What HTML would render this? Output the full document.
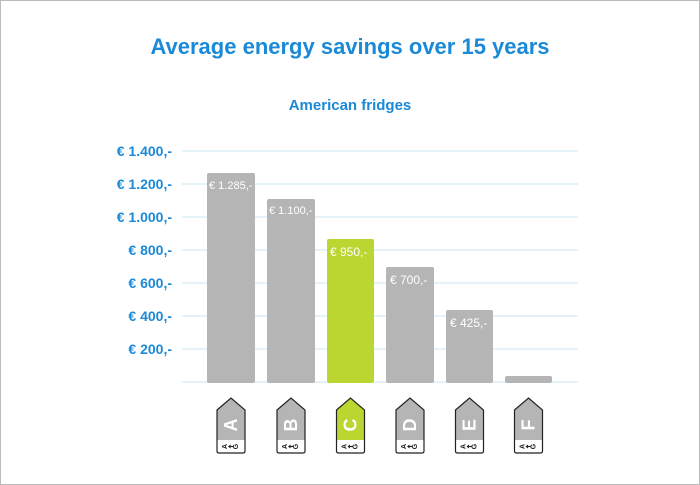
<!DOCTYPE html>
<html><head><meta charset="utf-8"><style>
body{margin:0;background:#fff}
svg{display:block}
text{font-family:"Liberation Sans",sans-serif}
</style></head><body>
<svg width="700" height="485" viewBox="0 0 700 485">
<rect x="0.5" y="0.5" width="699" height="484" fill="#fff" stroke="#bbb"/>
<text x="350" y="54" text-anchor="middle" font-size="22" font-weight="bold" fill="#1a8ad8">Average energy savings over 15 years</text>
<text x="350" y="110" text-anchor="middle" font-size="15" font-weight="bold" fill="#1a8ad8">American fridges</text>
<g stroke="#d6ebf8" stroke-width="1.2">
<line x1="182" x2="578" y1="151" y2="151"/><line x1="182" x2="578" y1="184" y2="184"/>
<line x1="182" x2="578" y1="217" y2="217"/><line x1="182" x2="578" y1="250" y2="250"/>
<line x1="182" x2="578" y1="283" y2="283"/><line x1="182" x2="578" y1="316" y2="316"/>
<line x1="182" x2="578" y1="349" y2="349"/><line x1="182" x2="578" y1="382" y2="382"/>
</g>
<g font-size="14" font-weight="bold" fill="#1a8ad8" text-anchor="end">
<text x="172" y="156">€ 1.400,-</text><text x="172" y="189">€ 1.200,-</text>
<text x="172" y="222">€ 1.000,-</text><text x="172" y="255">€ 800,-</text>
<text x="172" y="288">€ 600,-</text><text x="172" y="321">€ 400,-</text>
<text x="172" y="354">€ 200,-</text>
</g>
<g fill="#b5b5b5">
<rect x="207" y="173" width="48" height="210" rx="2"/>
<rect x="267" y="199" width="48" height="184" rx="2"/>
<rect x="327" y="239" width="47" height="144" fill="#bcd631" rx="2"/>
<rect x="386" y="267" width="48" height="116" rx="2"/>
<rect x="446" y="310" width="47" height="73" rx="2"/>
<rect x="505" y="376" width="47" height="7" rx="2"/>
</g>
<g fill="#fff" font-size="11">
<text x="209" y="189">€ 1.285,-</text>
<text x="269" y="214">€ 1.100,-</text>
<text x="330" y="256" font-size="12">€ 950,-</text>
<text x="390" y="284" font-size="12">€ 700,-</text>
<text x="450" y="327" font-size="12">€ 425,-</text>
</g>
<defs>
<g id="b">
<path d="M-14,12 L0,0 L14,12 L14,42 L-14,42 Z" fill="currentColor"/>
<path d="M-14,42 L14,42 L14,53 Q14,55 12,55 L-12,55 Q-14,55 -14,53 Z" fill="#fff"/>
<path d="M-14,12 L0,0 L14,12 L14,53 Q14,55 12,55 L-12,55 Q-14,55 -14,53 Z" fill="none" stroke="#222" stroke-width="1.2"/>
<text transform="translate(-5.5,48.5) rotate(-90)" font-size="7" font-weight="bold" fill="#222" text-anchor="middle" dominant-baseline="central">A</text>
<text transform="translate(5.5,48.5) rotate(-90)" font-size="7" font-weight="bold" fill="#222" text-anchor="middle" dominant-baseline="central">G</text>
<line x1="-2" y1="48.5" x2="2.5" y2="48.5" stroke="#222" stroke-width="1.2"/>
<path d="M-3,48.5 L-0.5,46.5 L-0.5,50.5 Z" fill="#222"/>
</g>
</defs>
<g color="#b5b5b5">
<use href="#b" x="231" y="398"/><use href="#b" x="291" y="398"/>
<use href="#b" x="350.5" y="398" color="#bcd631"/><use href="#b" x="410" y="398"/>
<use href="#b" x="469.5" y="398"/><use href="#b" x="528.5" y="398"/>
</g>
<g fill="#fff" font-size="18" font-weight="bold" text-anchor="middle">
<text transform="translate(237,425) rotate(-90)">A</text>
<text transform="translate(297,425) rotate(-90)">B</text>
<text transform="translate(356.5,425) rotate(-90)">C</text>
<text transform="translate(416,425) rotate(-90)">D</text>
<text transform="translate(475.5,425) rotate(-90)">E</text>
<text transform="translate(534.5,425) rotate(-90)">F</text>
</g>
</svg>
</body></html>
